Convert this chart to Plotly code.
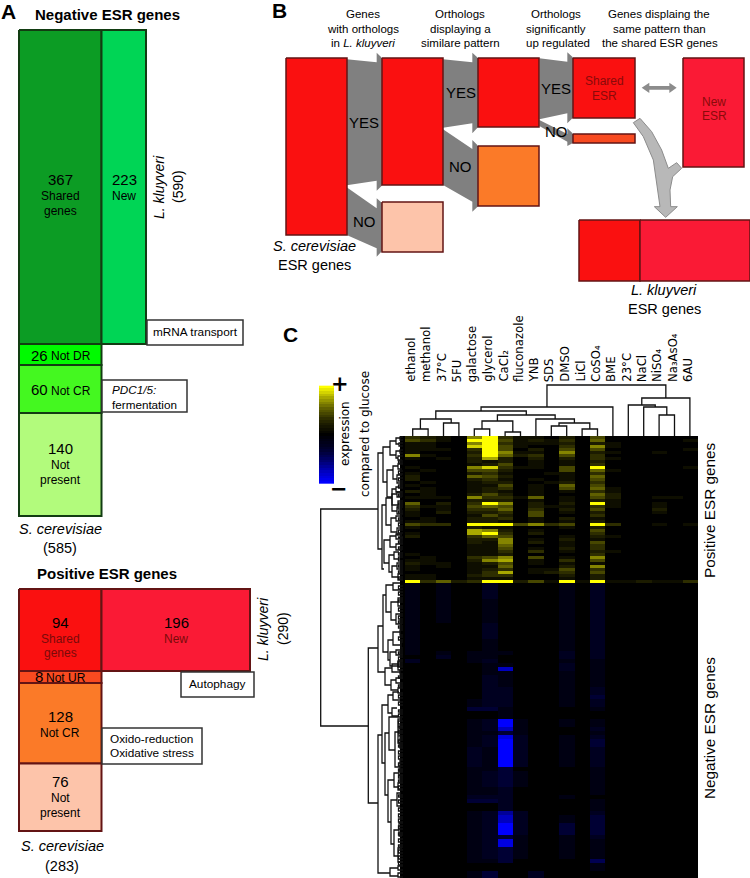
import numpy as np
import plotly.graph_objects as go

# panel A values
neg_counts = [367, 223, 26, 60, 140]
pos_counts = [94, 196, 8, 128, 76]
neg_total_sc, neg_total_lk = 585, 590
pos_total_sc, pos_total_lk = 283, 290

conditions = ["ethanol", "methanol", "37°C", "5FU", "galactose", "glycerol", "CaCl₂",
              "fluconazole", "YNB", "SDS", "DMSO", "LiCl", "CoSO₄", "BME", "23°C",
              "NaCl", "NiSO₄", "Na₃AsO₄", "6AU"]

# expression, one digit per condition, 0 = black, 9 = full colour
pos_rows = [
    "3210 6931 1020 4000 000", "4310 9941 2130 5000 001", "1100 6931 1120 2100 000",
    "1100 8941 0030 6100 000", "1110 3940 2040 4000 001", "1000 2961 1060 2100 100",
    "6100 3952 3040 3000 000", "1010 2720 2020 3100 000", "0000 2120 1010 2000 000",
    "0000 1240 1010 3000 000", "1000 6831 1040 9000 001", "0100 4420 0040 5100 000",
    "1000 2310 0110 3000 000", "2000 5420 0010 5000 000", "2000 2310 1010 4000 000",
    "0100 1220 0120 3000 000", "1000 1140 1050 4000 000", "0100 1230 1040 5100 000",
    "2100 1210 1010 3100 000", "0100 2420 1000 5200 000", "1110 6331 5010 4200 110",
    "0000 2220 1010 2100 000", "5020 3960 2020 9100 100", "3110 4540 2110 3100 100",
    "2010 3350 3020 4000 200", "1020 2230 4010 2000 100", "1000 1420 4000 3000 000",
    "0100 2230 1020 1000 000", "1100 2210 1010 2000 000", "4330 9994 6340 9300 101",
    "1000 2110 0010 2000 000", "0000 7620 1000 4000 000", "1000 7930 2000 3000 000",
    "2000 3540 0010 2100 000", "0000 2260 1020 1000 000", "0000 2160 2010 4000 000",
    "0000 1150 0010 3000 000", "0000 1140 1020 3000 000", "0000 1130 3010 2100 000",
    "1000 1120 0000 3000 000", "0100 3460 4010 6000 000", "1100 2670 1030 4000 000",
    "2110 1240 1010 1000 000", "1010 1150 0020 6000 000", "1000 1230 1140 3000 000",
    "0000 1370 1230 4000 000", "1100 2330 0020 2000 000", "1100 1110 0010 2000 000",
    "9352 3992 4191 9112 113",
]
neg_rows = [
    "1010 0200 0010 2000 000", "1010 0100 0010 2000 000", "1000 0200 0010 2000 000",
    "1000 0100 0010 2000 000", "1010 1110 0020 2000 000", "0020 1100 0020 2000 000",
    "2000 1200 0010 1000 000", "0000 0110 0020 1000 000", "0000 0170 0020 1000 000",
    "0000 0110 0010 1000 000", "0000 0210 0010 1000 000", "0000 0220 0010 2000 000",
    "0000 0220 0010 3000 000", "0000 1220 0010 2000 000", "0000 3310 0000 1000 000",
    "0000 0010 0000 0000 000", "0000 1291 0010 1000 000", "0000 1271 0000 2000 000",
    "0000 1131 0000 1000 000", "0000 1282 0010 2000 000", "0000 1292 0010 3000 000",
    "0000 2192 0010 2000 000", "0000 1130 0000 1000 000", "0000 1231 0000 1000 000",
    "0000 1120 0000 1000 000", "0000 2220 0010 0000 000", "0000 3320 0000 1000 000",
    "0000 0020 0000 1000 000", "0000 1262 0000 2000 000", "0000 1272 0010 3000 000",
    "0000 1292 0030 3000 000", "0000 1231 0010 2000 000", "0000 1281 0010 1000 000",
    "0000 1231 0010 1000 000", "0000 1130 0000 4000 000", "0000 0000 0000 1000 000",
    "0000 1300 2000 0000 000",
]
neg_repeats = [4, 6, 4, 3, 1, 1, 1, 1, 1, 1, 3, 2, 1, 2, 1, 2, 2, 1, 1, 1, 2, 5, 1, 4, 2, 1, 1, 2,
               1, 2, 3, 1, 2, 3, 1, 2, 2]

# column tree: node a, node b, drawn height; leaves are 0-18, new nodes count up from 19
col_links = [
    (0, 1, 429), (2, 3, 423), (19, 20, 419), (4, 5, 429), (6, 7, 432), (22, 23, 421),
    (9, 10, 426), (11, 12, 429), (25, 26, 423), (8, 27, 419), (24, 28, 415), (21, 29, 411),
    (30, 13, 407), (16, 17, 415), (15, 32, 407), (14, 33, 405), (34, 18, 398), (31, 35, 385),
]

# row tree brackets: stem x, top y, bottom y, top child x, bottom child x
row_links = [
    (320.7, 509, 726, 378, 368.3),
    (378, 453, 549, 383, 382), (383, 447, 482, 390, 387), (390, 441, 455, 396, 396),
    (396, 438, 444, 400, 399), (396, 451, 458, 400, 398), (400, 437, 440, 403, 403),
    (399, 443, 446, 403, 403), (400, 450, 453, 403, 403), (398, 456, 460, 403, 402),
    (387, 470, 497, 393, 392), (393, 466, 479, 398, 397), (398, 464, 469, 403, 402),
    (397, 475, 483, 402, 403), (392, 489, 505, 396, 398), (396, 487, 492, 403, 402),
    (398, 501, 509, 403, 402), (382, 505, 569, 386, 384), (386, 498, 525, 392, 391),
    (392, 494, 511, 397, 397), (397, 492, 497, 403, 402), (397, 507, 514, 403, 403),
    (391, 518, 532, 396, 397), (396, 516, 521, 402, 403), (397, 528, 535, 403, 402),
    (384, 540, 563, 390, 389), (390, 536, 547, 396, 396), (396, 534, 539, 402, 403),
    (396, 544, 550, 403, 402), (389, 555, 572, 394, 392), (394, 552, 559, 399, 400),
    (392, 566, 577, 397, 398), (397, 563, 569, 403, 403), (398, 574, 580, 403, 403),
    (368.3, 648, 803, 378, 378),
    (378, 626, 672, 383, 385), (383, 595, 652, 386, 388), (386, 585, 612, 393, 391),
    (393, 583, 590, 400, 400), (391, 602, 620, 398, 396), (398, 598, 606, 403, 403),
    (396, 614, 624, 403, 402), (388, 640, 660, 393, 390), (393, 632, 645, 400, 401),
    (400, 630, 635, 403, 403), (401, 642, 648, 403, 403), (390, 652, 666, 396, 398),
    (396, 650, 655, 403, 403), (398, 661, 670, 403, 403), (385, 668, 685, 392, 391),
    (392, 664, 672, 398, 400), (398, 662, 667, 403, 403), (400, 670, 674, 403, 403),
    (391, 680, 690, 396, 398), (396, 678, 683, 403, 403), (398, 688, 693, 403, 403),
    (378, 735, 873, 382, 390), (390, 868, 876, 398, 398), (398, 866, 870, 403, 403),
    (398, 873, 877, 403, 403), (382, 705, 763, 388, 385), (388, 695, 713, 393, 392),
    (393, 692, 700, 399, 400), (392, 708, 716, 397, 399), (385, 733, 795, 389, 388),
    (389, 717, 750, 398, 395), (398, 719, 743, 402, 400), (395, 732, 767, 399, 400),
    (400, 738, 748, 403, 403), (399, 728, 736, 403, 403), (400, 760, 772, 403, 403),
    (388, 780, 822, 394, 391), (394, 773, 787, 399, 398), (399, 770, 776, 403, 403),
    (398, 783, 790, 403, 403), (391, 800, 844, 397, 394), (397, 793, 806, 401, 400),
    (394, 830, 856, 399, 398), (399, 823, 836, 403, 402), (398, 848, 862, 402, 403),
]
# smallest twigs next to the heat map: top y, bottom y
leaf_spans = [
    (461, 463), (471, 474), (478, 481), (485, 488), (494, 496), (503, 505), (511, 513), (518, 520),
    (523, 526), (530, 533), (537, 538), (541, 543), (547, 549), (553, 555), (557, 561), (565, 567),
    (571, 573), (577, 579), (586, 589), (592, 595), (600, 602), (608, 611), (616, 619), (621, 623),
    (626, 628), (637, 640), (652, 654), (657, 660), (664, 666), (676, 678), (685, 687), (695, 698),
    (702, 705), (710, 712), (714, 717), (721, 724), (726, 727), (731, 733), (740, 743), (745, 747),
    (751, 754), (756, 759), (763, 766), (769, 771), (775, 778), (780, 782), (786, 789), (795, 797),
    (800, 803), (808, 811), (814, 817), (819, 822), (826, 829), (833, 835), (839, 842), (845, 847),
    (850, 853), (856, 859), (862, 865),
]

GREEN_EDGE = "#123c12"
RED_EDGE = "#631414"
RED = "#fa1010"
CRIMSON = "#fa1a35"
ORANGE_RED = "#f84a20"
ORANGE = "#fb7a28"
PEACH = "#fdc4aa"
SANS = "Liberation Sans"
DEJA = "DejaVu Sans"

fig = go.Figure()
texts = []


def poly(xs, ys, fill, edge=None, width=1.0):
    fig.add_trace(go.Scatter(x=xs, y=ys, mode="lines", fill="toself", fillcolor=fill,
                             line=dict(color=edge or fill, width=width if edge else 0),
                             hoverinfo="skip", showlegend=False))


def box(x0, y0, x1, y1, fill, edge, width=2.0):
    poly([x0, x1, x1, x0, x0], [y0, y0, y1, y1, y0], fill, edge, width)


def arrow(points, fill="#808080", edge=None):
    # points are read in the 3x crop of panel B
    poly([260 + p[0] / 3 for p in points] + [260 + points[0][0] / 3],
         [p[1] / 3 for p in points] + [points[0][1] / 3], fill, edge)


def label(x, y, text, size=12, color="#000000", anchor="center", angle=0, family=SANS,
          weight="normal", style="normal"):
    texts.append(dict(x=x, y=y, text=text, showarrow=False, xanchor=anchor, yanchor="middle",
                      textangle=angle,
                      font=dict(family=family, size=size, color=color, weight=weight, style=style)))


# ---- panel A, negative genes
box(19, 30, 101.5, 344, "#0c9c24", GREEN_EDGE)
box(101.5, 30, 146, 344, "#00d555", GREEN_EDGE)
box(19, 344, 101.5, 365, "#00fa00", GREEN_EDGE)
box(19, 365, 101.5, 413, "#44f820", GREEN_EDGE)
box(19, 413, 101.5, 516, "#b2fb7c", GREEN_EDGE)
box(147, 320, 243, 345, "#ffffff", "#333333", 1.5)
box(102, 380, 187, 412, "#ffffff", "#333333", 1.5)

label(8, 11, "A", 21, weight="bold")
label(107, 14, "Negative ESR genes", 15, weight="bold")
label(60, 179, str(neg_counts[0]), 15)
label(60, 196, "Shared")
label(60, 211, "genes")
label(124, 179, str(neg_counts[1]), 15)
label(124, 196, "New")
label(159, 187, "L. kluyveri", 14, angle=-90, style="italic")
label(178, 187, f"({neg_total_lk})", 14, angle=-90)
label(195, 332, "mRNA transport", 11.8)
label(39, 355, str(neg_counts[2]), 15)
label(71, 356, "Not DR")
label(39, 389, str(neg_counts[3]), 15)
label(71, 391, "Not CR")
label(110, 389, "PDC1/5:", 11.7, anchor="left", style="italic")
label(110, 404, "fermentation", 11.7, anchor="left")
label(60, 448, str(neg_counts[4]), 15)
label(60, 465, "Not")
label(60, 480, "present")
label(60, 529, "S. cerevisiae", 14.5, style="italic")
label(60, 548, f"({neg_total_sc})", 14.5)

# ---- panel A, positive genes
box(19, 589, 101.5, 671, RED, RED_EDGE)
box(101.5, 589, 250, 671, CRIMSON, RED_EDGE)
box(19, 671, 101.5, 683, ORANGE_RED, RED_EDGE)
box(19, 683, 101.5, 763.5, ORANGE, RED_EDGE)
box(19, 763.5, 101.5, 831, PEACH, RED_EDGE)
box(181, 672, 254, 697, "#ffffff", "#333333", 1.5)
box(102, 728, 202, 764, "#ffffff", "#333333", 1.5)

label(107, 573, "Positive ESR genes", 15, weight="bold")
label(60, 622, str(pos_counts[0]), 15)
label(60, 639, "Shared", color="#7a0a0a")
label(60, 653, "genes", color="#7a0a0a")
label(176, 622, str(pos_counts[1]), 15)
label(176, 639, "New", color="#7a0a0a")
label(39, 676, str(pos_counts[2]), 15)
label(66, 678, "Not UR")
label(60, 716, str(pos_counts[3]), 15)
label(60, 733, "Not CR")
label(60, 781, str(pos_counts[4]), 15)
label(60, 798, "Not")
label(60, 813, "present")
label(217, 684, "Autophagy", 11.8)
label(108, 739, "Oxido-reduction", 11.8, anchor="left")
label(108, 753, "Oxidative stress", 11.8, anchor="left")
label(62, 846, "S. cerevisiae", 14.5, style="italic")
label(62, 866, f"({pos_total_sc})", 14.5)
label(263, 629, "L. kluyveri", 14, angle=-90, style="italic")
label(283, 629, f"({pos_total_lk})", 14, angle=-90)

# ---- panel B
arrow([(260, 178), (350, 187), (350, 158), (367, 175), (367, 556), (350, 572), (350, 542), (260, 556)])
arrow([(260, 562), (350, 625), (350, 595), (367, 610), (367, 752), (350, 770), (350, 745), (260, 705)])
arrow([(549, 178), (637, 187), (637, 158), (655, 175), (655, 380), (637, 400), (637, 370), (549, 383)])
arrow([(549, 388), (637, 447), (637, 420), (655, 438), (655, 618), (637, 635), (637, 605), (549, 555)])
arrow([(838, 175), (922, 185), (922, 157), (940, 173), (940, 352), (922, 370), (922, 340), (838, 358)])
arrow([(838, 360), (922, 402), (922, 385), (940, 402), (940, 428), (922, 438), (922, 425), (838, 378)])
arrow([(1145, 263), (1168, 248), (1168, 258), (1228, 258), (1228, 248), (1250, 263), (1228, 279),
       (1228, 269), (1168, 269), (1168, 279)], "#8c8c8c")
arrow([(1120, 368), (1150, 410), (1180, 480), (1192, 560), (1200, 620), (1183, 620), (1217, 652),
       (1252, 620), (1232, 620), (1230, 570), (1238, 530), (1265, 505), (1250, 488), (1225, 505),
       (1205, 450), (1175, 395), (1140, 355)], "#b8b8b8", "#8c8c8c")

box(286, 58, 347, 235, RED, RED_EDGE, 1.5)
box(382, 58, 443, 185, RED, RED_EDGE, 1.5)
box(478, 58, 539, 127, RED, RED_EDGE, 1.5)
box(573, 58, 635, 118, RED, RED_EDGE, 1.5)
box(573, 134, 635, 143, ORANGE_RED, RED_EDGE, 1.5)
box(478, 146, 539, 206, ORANGE, RED_EDGE, 1.5)
box(382, 202, 443, 252, PEACH, RED_EDGE, 1.5)
box(683, 58, 744, 167, CRIMSON, RED_EDGE, 1.5)
box(579, 220, 640, 281, RED, RED_EDGE, 1.5)
box(640, 220, 750, 281, CRIMSON, RED_EDGE, 1.5)

label(279, 10, "B", 21, weight="bold")
label(363, 14, "Genes", 11.5)
label(363, 29, "with orthologs", 11.5)
label(363, 43, "in <i>L. kluyveri</i>", 11.5)
label(460, 14, "Orthologs", 11.5)
label(460, 29, "displaying a", 11.5)
label(460, 43, "similare pattern", 11.5)
label(556, 14, "Orthologs", 11.5)
label(556, 29, "significantly", 11.5)
label(558, 43, "up regulated", 11.5)
label(659, 14, "Genes displaing the", 11.5)
label(659, 29, "same pattern than", 11.5)
label(660, 43, "the shared ESR genes", 11.5)
label(364, 122, "YES", 15)
label(364, 221, "NO", 15)
label(461, 92, "YES", 15)
label(460, 166, "NO", 15)
label(556, 88, "YES", 15)
label(556, 131, "NO", 15)
label(604, 81, "Shared", color="#8a0a0a")
label(604, 96, "ESR", color="#8a0a0a")
label(714, 102, "New", color="#8a0a0a")
label(714, 116, "ESR", color="#8a0a0a")
label(314, 246, "S. cerevisiae", 14.5, style="italic")
label(314, 265, "ESR genes", 14.5)
label(664, 290, "L. kluyveri", 14.5, style="italic")
label(664, 309, "ESR genes", 14.5)

# ---- panel C
cell = 15.4
col_x = 405 + cell * (np.arange(len(conditions)) + 0.5)
# the picture's colours stay dark for most of the range, hence the uneven stops
scale = [
    [0, "#0000ff"], [2 / 18, "#0000c0"], [4 / 18, "#000070"], [6 / 18, "#000034"],
    [7 / 18, "#000020"], [8 / 18, "#000012"], [0.5, "#000000"], [10 / 18, "#0e0e00"],
    [11 / 18, "#1c1c00"], [12 / 18, "#2e2e00"], [14 / 18, "#606000"], [16 / 18, "#a8a800"],
    [1, "#ffff00"],
]


def decode(rows):
    return np.array([[int(c) for c in r.replace(" ", "")] for r in rows], dtype=float)


z_pos = decode(pos_rows)
z_neg = -np.repeat(decode(neg_rows), neg_repeats, axis=0)

box(400, 436, 405, 878, "#000000", None)
fig.add_trace(go.Heatmap(x=col_x, y=436 + 3 * (np.arange(len(z_pos)) + 0.5), z=z_pos, zmin=-9, zmax=9,
                         colorscale=scale, showscale=False, hoverinfo="skip"))
fig.add_trace(go.Heatmap(x=col_x, y=583 + 4 * (np.arange(len(z_neg)) + 0.5), z=z_neg, zmin=-9, zmax=9,
                         colorscale=scale, showscale=False, hoverinfo="skip"))

# colour key
key_levels = np.arange(9, -9.5, -0.5)
fig.add_trace(go.Heatmap(x=[319, 334], y=np.linspace(387, 482, len(key_levels)),
                         z=key_levels.reshape(-1, 1), zmin=-9, zmax=9, colorscale=scale,
                         showscale=False, hoverinfo="skip"))
label(340, 384, "+", 21, family=DEJA, weight="bold")
label(339, 489, "−", 21, family=DEJA, weight="bold")
label(345, 434, "expression", 12, angle=-90, family=DEJA)
label(365, 434, "compared to glucose", 12, angle=-90, family=DEJA)
label(290, 334, "C", 21, weight="bold")

for x, name in zip(col_x, conditions):
    texts.append(dict(x=x - 2, y=384, text=name, showarrow=False, xanchor="center", yanchor="bottom",
                      textangle=-90, font=dict(family=DEJA, size=11.7, color="#000000")))
label(709, 510, "Positive ESR genes", 15.3, angle=-90)
label(709, 728, "Negative ESR genes", 15.3, angle=-90)

# dendrograms
node_x = {i: x for i, x in enumerate(col_x)}
node_y = {i: 436 for i in range(len(conditions))}
lx, ly = [], []
for n, (a, b, h) in enumerate(col_links, start=len(conditions)):
    lx += [node_x[a], node_x[a], node_x[b], node_x[b], None]
    ly += [node_y[a], h, h, node_y[b], None]
    node_x[n] = (node_x[a] + node_x[b]) / 2
    node_y[n] = h
for x, y0, y1, xa, xb in row_links:
    lx += [xa, x, x, xb, None]
    ly += [y0, y0, y1, y1, None]
for y0, y1 in leaf_spans:
    lx += [403, 398.5, 398.5, 403, None]
    ly += [y0, y0, y1, y1, None]
fig.add_trace(go.Scatter(x=lx, y=ly, mode="lines", line=dict(color="#111111", width=1.3),
                         hoverinfo="skip", showlegend=False))

fig.update_layout(
    width=750, height=878, margin=dict(l=0, r=0, t=0, b=0), autosize=False,
    paper_bgcolor="#ffffff", plot_bgcolor="#ffffff", annotations=texts, showlegend=False,
    xaxis=dict(range=[0, 750], visible=False, fixedrange=True),
    yaxis=dict(range=[878, 0], visible=False, fixedrange=True),
)
fig.write_html("out.html", post_script="document.body.style.margin='0';", config=dict(displayModeBar=False))
